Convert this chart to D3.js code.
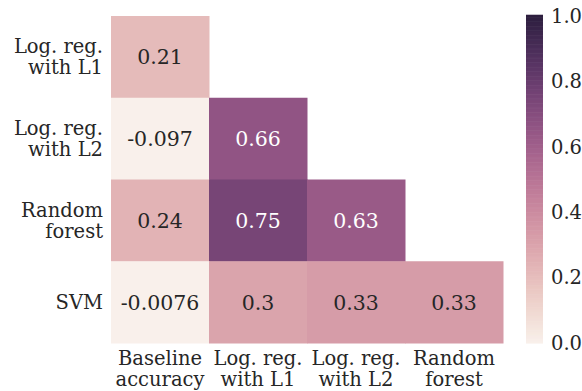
<!DOCTYPE html>
<html>
<head>
<meta charset="utf-8">
<script src="https://cdn.jsdelivr.net/npm/d3@7"></script>
<style>
  body { margin: 0; background: #fff; }
  svg text { font-family: "DejaVu Serif", "Liberation Serif", serif; }
</style>
</head>
<body>
<svg width="582" height="391"></svg>
<script>
// chart data
var rowLabels = ["Log. reg.\nwith L1", "Log. reg.\nwith L2", "Random\nforest", "SVM"];
var colLabels = ["Baseline\naccuracy", "Log. reg.\nwith L1", "Log. reg.\nwith L2", "Random\nforest"];
var rowL1 = [0.21, null, null, null];
var rowL2 = [-0.097, 0.66, null, null];
var rowRF = [0.24, 0.75, 0.63, null];
var rowSVM = [-0.0076, 0.3, 0.33, 0.33];
var valueLabels = [["0.21"], ["-0.097", "0.66"], ["0.24", "0.75", "0.63"], ["-0.0076", "0.3", "0.33", "0.33"]];
var cbarTicks = [0, 0.2, 0.4, 0.6, 0.8, 1.0];

function main() {
  var rows = [rowL1, rowL2, rowRF, rowSVM];
  var cells = [];
  rows.forEach(function (r, i) {
    r.forEach(function (v, j) {
      if (v !== null) cells.push({ row: rowLabels[i], col: colLabels[j], v: v, label: valueLabels[i][j] });
    });
  });

  var svg = d3.select("svg");

  // seaborn-like cubehelix (light .95 -> dark .15)
  function cubehelix(t) {
    var x = 0.95 + (0.15 - 0.95) * t;
    var a = 0.8 * x * (1 - x) / 2;
    var phi = 2 * Math.PI * (0.4 * x);
    function ch(p0, p1) {
      return Math.max(0, Math.min(1, x + a * (p0 * Math.cos(phi) + p1 * Math.sin(phi))));
    }
    return d3.rgb(ch(-0.14861, 1.78277) * 255, ch(-0.29227, -0.90649) * 255, ch(1.97294, 0) * 255).toString();
  }
  var color = d3.scaleSequential(cubehelix).domain([0, 1]).clamp(true);

  var x = d3.scaleBand().domain(colLabels).range([111, 503]);
  var y = d3.scaleBand().domain(rowLabels).range([16, 343]);

  function lum(c) {
    var rgb = d3.rgb(c);
    function f(u) { u /= 255; return u <= 0.03928 ? u / 12.92 : Math.pow((u + 0.055) / 1.055, 2.4); }
    return 0.2126 * f(rgb.r) + 0.7152 * f(rgb.g) + 0.0722 * f(rgb.b);
  }

  svg.append("g")
    .selectAll("rect")
    .data(cells)
    .enter()
    .append("rect")
    .attr("x", (d) => x(d.col))
    .attr("y", (d) => y(d.row))
    .attr("width", x.bandwidth() + 0.5)
    .attr("height", y.bandwidth() + 0.5)
    .attr("fill", (d) => color(d.v));

  svg.append("g")
    .selectAll("text")
    .data(cells)
    .enter()
    .append("text")
    .attr("x", (d) => x(d.col) + x.bandwidth() / 2)
    .attr("y", (d) => y(d.row) + y.bandwidth() / 2)
    .attr("dy", "0.36em")
    .attr("text-anchor", "middle")
    .attr("font-size", 20.5)
    .attr("fill", (d) => (lum(color(d.v)) > 0.408 ? "#262626" : "#ffffff"))
    .text((d) => d.label);

  function multiline(sel, anchorY) {
    sel.each(function (d) {
      var t = d3.select(this);
      var lines = d.split("\n");
      t.text(null);
      lines.forEach(function (line, i) {
        t.append("tspan")
          .attr("x", t.attr("x") || 0)
          .attr("y", anchorY(i, lines.length))
          .text(line);
      });
    });
  }

  var lineH = 21;
  var yAxis = svg.append("g")
    .attr("transform", "translate(111,0)")
    .call(d3.axisLeft(y).tickSize(0).tickPadding(8));
  yAxis.select(".domain").remove();
  yAxis.selectAll("text")
    .attr("font-size", 19.5)
    .attr("fill", "#262626")
    .attr("x", -8)
    .attr("dy", null)
    .call(multiline, function (i, n) { return (i - (n - 1) / 2) * lineH + 7; });

  var xAxis = svg.append("g")
    .attr("transform", "translate(0,343)")
    .call(d3.axisBottom(x).tickSize(0).tickPadding(8));
  xAxis.select(".domain").remove();
  xAxis.selectAll("text")
    .attr("font-size", 19.5)
    .attr("fill", "#262626")
    .attr("dy", null)
    .call(multiline, function (i) { return 22 + i * lineH; });

  // colorbar
  var cb = d3.scaleLinear().domain([0, 1]).range([343, 16]);
  var steps = d3.range(0, 256).map((i) => i / 255);
  svg.append("g")
    .selectAll("rect")
    .data(steps)
    .enter()
    .append("rect")
    .attr("x", 526)
    .attr("width", 17)
    .attr("y", (d) => cb(d) - (343 - 16) / 256)
    .attr("height", (343 - 16) / 256 + 0.6)
    .attr("fill", (d) => color(d));

  var cAxis = svg.append("g")
    .attr("transform", "translate(543,0)")
    .call(d3.axisRight(cb).tickValues(cbarTicks).tickFormat(d3.format(".1f")).tickSize(0).tickPadding(8));
  cAxis.select(".domain").remove();
  cAxis.selectAll("text").attr("font-size", 19.5).attr("fill", "#262626");
}

main();
</script>
</body>
</html>
